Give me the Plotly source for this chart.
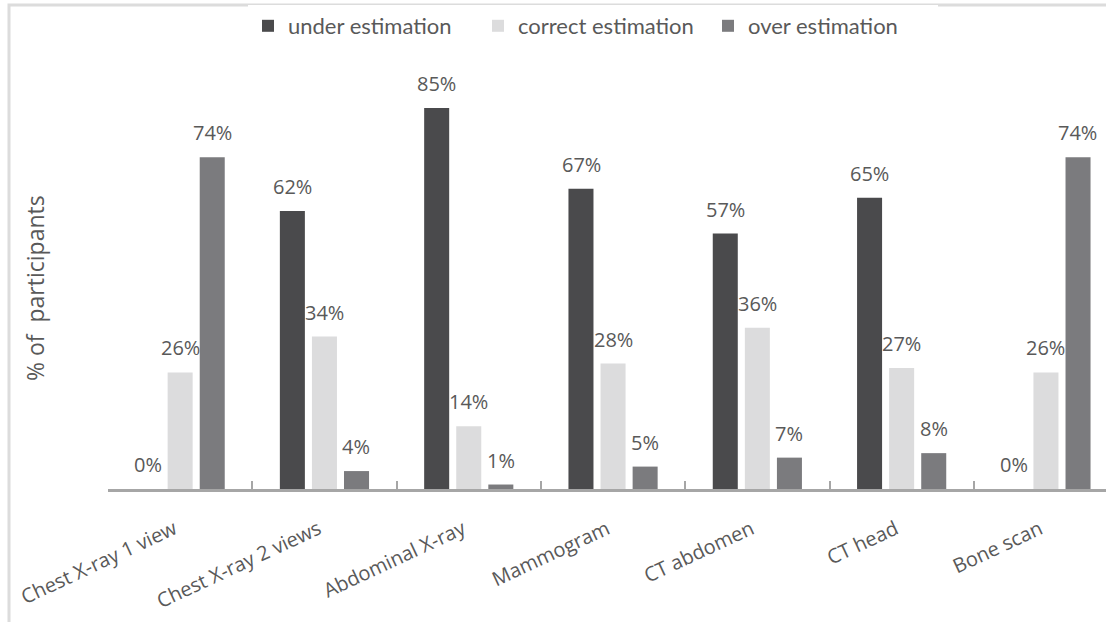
import plotly.graph_objects as go

categories = ["Chest X-ray 1 view", "Chest X-ray 2 views", "Abdominal X-ray",
              "Mammogram", "CT abdomen", "CT head", "Bone scan"]
under = [0, 62, 85, 67, 57, 65, 0]
correct = [26, 34, 14, 28, 36, 27, 26]
over = [74, 4, 1, 5, 7, 8, 74]

series = [
    ("under estimation", under, "#4a4a4c"),
    ("correct estimation", correct, "#dcdcdd"),
    ("over estimation", over, "#7b7b7e"),
]
y_title = "% of  participants"

TXT = "#595959"
fig = go.Figure()
for name, vals, col in series:
    fig.add_trace(go.Bar(name=name, x=categories, y=vals, marker_color=col,
                         marker_line_width=0))

W, H = 1106, 622
L, T, B = 108, 60, 133
plot_w = W - L
plot_h = H - T - B
cat_px = 144.3
yunit = 4.482

annotations = []
for i, (name, vals, col) in enumerate(series):
    for c, v in zip(categories, vals):
        annotations.append(dict(x=c, y=v, xref="x", yref="y", text=f"{v}%",
                                showarrow=False, xshift=(i - 1) * 32, yshift=9,
                                yanchor="bottom",
                                font=dict(family="Open Sans", size=20, color=TXT)))
annotations.append(dict(text=y_title, xref="paper", yref="paper",
                        x=(35 - L) / plot_w, y=(H - B - 288) / plot_h,
                        xanchor="center", yanchor="middle", textangle=-90,
                        showarrow=False,
                        font=dict(family="Open Sans", size=23, color=TXT)))

fig.update_layout(
    width=W, height=H,
    margin=dict(l=L, r=0, t=T, b=B, autoexpand=False),
    paper_bgcolor="white", plot_bgcolor="white",
    barmode="group", bargap=0.333, bargroupgap=0.22,
    showlegend=True,
    legend=dict(orientation="h", x=(248 - L) / plot_w, xanchor="left",
                y=(H - B - 5) / plot_h, yanchor="top",
                font=dict(family="Lato", size=22, color=TXT),
                itemwidth=30, traceorder="normal",
                entrywidth=185, entrywidthmode="pixels"),
    annotations=annotations,
    font=dict(family="Open Sans", color=TXT),
    shapes=[dict(type="rect", xref="paper", yref="paper",
                 x0=(9 - L) / plot_w, x1=1.2,
                 y0=(H - B - 5) / plot_h, y1=-0.5,
                 line=dict(color="#dcdcdc", width=3), layer="below")],
)
fig.update_xaxes(
    range=[-0.5, -0.5 + plot_w / cat_px],
    showline=True, linecolor="#a6a6a6", linewidth=3,
    ticks="inside", tickson="boundaries", ticklen=8, tickcolor="#a6a6a6", tickwidth=2,
    tickangle=-25, ticklabelstandoff=18, ticklabelshift=-6,
    tickfont=dict(family="Open Sans", size=20, color=TXT),
    showgrid=False, zeroline=False, fixedrange=True,
)
fig.update_yaxes(
    range=[0, plot_h / yunit], showline=False, showgrid=False, zeroline=False,
    showticklabels=False, ticks="",
)
fig.write_html("out.html")
